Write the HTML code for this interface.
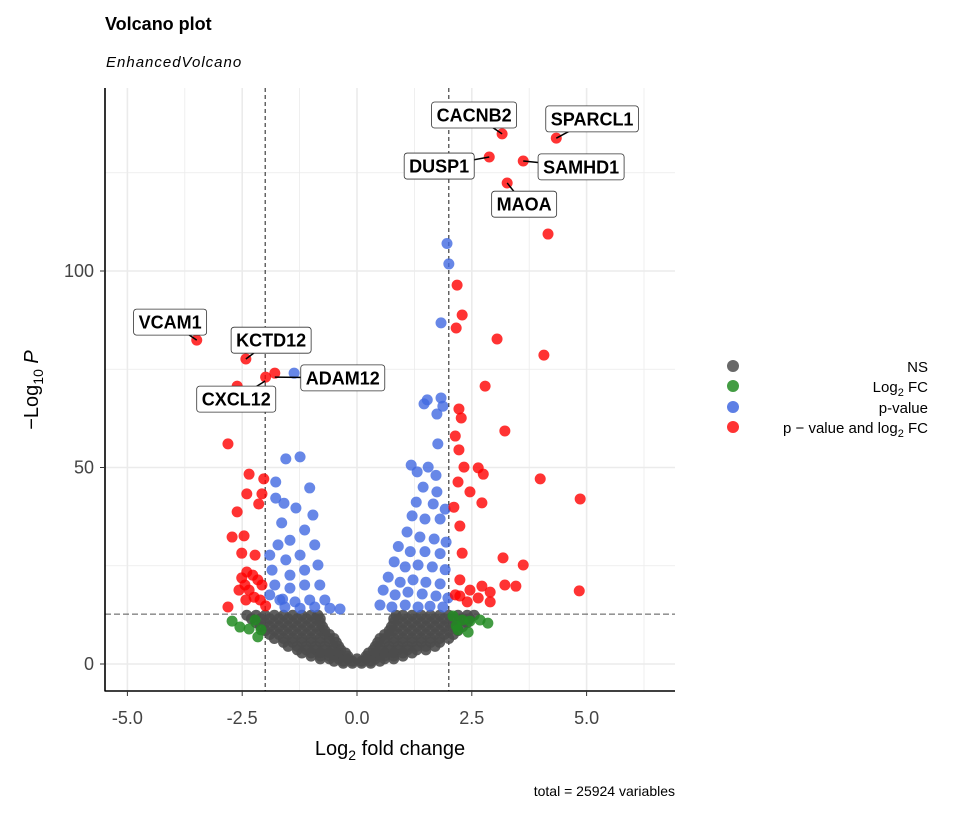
<!DOCTYPE html>
<html><head><meta charset="utf-8"><style>
body{margin:0;background:#fff;}
svg text{font-family:"Liberation Sans",sans-serif;}
</style></head><body>
<svg id="chart" width="960" height="816" xmlns="http://www.w3.org/2000/svg">
<text x="105" y="30" font-size="18" font-weight="bold">Volcano plot</text>
<text x="106" y="67" font-size="15" font-style="italic" letter-spacing="1">EnhancedVolcano</text>
<g id="grid"></g>
<g id="ref"></g>
<g id="pts"></g>
<g id="labels"></g>
<g id="axes"></g>
<text x="390" y="755" font-size="20" text-anchor="middle" fill="#000">Log<tspan font-size="14" dy="5">2</tspan><tspan dy="-5"> fold change</tspan></text>
<text transform="translate(38,390) rotate(-90)" font-size="20" text-anchor="middle">−Log<tspan font-size="14" dy="5">10</tspan><tspan dy="-5" font-style="italic"> P</tspan></text>
<g>
<circle cx="733" cy="366" r="6" fill="#4d4d4d" opacity="0.85"/>
<text x="928" y="372" font-size="15" text-anchor="end">NS</text>
<circle cx="733" cy="386" r="6" fill="#228B22" opacity="0.85"/>
<text x="928" y="392" font-size="15" text-anchor="end">Log<tspan font-size="11" dy="4">2</tspan><tspan dy="-4"> FC</tspan></text>
<circle cx="733" cy="407" r="6" fill="#4169E1" opacity="0.85"/>
<text x="928" y="413" font-size="15" text-anchor="end">p-value</text>
<circle cx="733" cy="427" r="6" fill="#FF0000" opacity="0.8"/>
<text x="928" y="433" font-size="15" text-anchor="end">p − value and log<tspan font-size="11" dy="4">2</tspan><tspan dy="-4"> FC</tspan></text>
</g>
<text x="675" y="796" font-size="14" text-anchor="end">total = 25924 variables</text>
</svg>
<script>
const xTicks=[-5,-2.5,0,2.5,5];
const xTickLabels=["-5.0","-2.5","0.0","2.5","5.0"];
const yTicks=[0,50,100];
const yTickLabels=["0","50","100"];
const fcCut=2, pCut=12.7;
const grayY=[12.4,11.5,10.5,9.5,8.5,7.5,6.5,5.5,4.5,3.6,2.8,2.0,1.3,0.7,0.2];
const grayX=[
[-2.4,-2.2,-2.0,-1.8,-1.6,-1.4,-1.2,-1.0,-0.85,0.85,1.0,1.2,1.4,1.6,1.8,2.0,2.2,2.4,2.55],
[-2.3,-2.1,-1.9,-1.7,-1.5,-1.3,-1.1,-0.9,-0.8,0.8,0.9,1.1,1.3,1.5,1.7,1.9,2.1,2.3,2.45],
[-2.2,-2.0,-1.8,-1.6,-1.4,-1.2,-1.0,-0.8,0.8,1.0,1.2,1.4,1.6,1.8,2.0,2.2,2.4],
[-2.1,-1.9,-1.7,-1.5,-1.3,-1.1,-0.9,-0.75,0.75,0.9,1.1,1.3,1.5,1.7,1.9,2.1,2.3],
[-2.0,-1.8,-1.6,-1.4,-1.2,-1.0,-0.8,-0.7,0.7,0.8,1.0,1.2,1.4,1.6,1.8,2.0,2.2],
[-1.9,-1.7,-1.5,-1.3,-1.1,-0.9,-0.7,-0.6,0.6,0.7,0.9,1.1,1.3,1.5,1.7,1.9,2.1],
[-1.8,-1.6,-1.4,-1.2,-1.0,-0.8,-0.6,-0.5,0.5,0.6,0.8,1.0,1.2,1.4,1.6,1.8,2.0],
[-1.6,-1.4,-1.2,-1.0,-0.8,-0.6,-0.45,0.45,0.6,0.8,1.0,1.2,1.4,1.6,1.8],
[-1.5,-1.3,-1.1,-0.9,-0.7,-0.5,-0.4,0.4,0.5,0.7,0.9,1.1,1.3,1.5,1.7],
[-1.3,-1.1,-0.9,-0.7,-0.5,-0.35,0.35,0.5,0.7,0.9,1.1,1.3,1.5],
[-1.2,-1.0,-0.8,-0.6,-0.4,-0.25,0.25,0.4,0.6,0.8,1.0,1.2],
[-1.0,-0.8,-0.6,-0.4,-0.2,0.2,0.4,0.6,0.8,1.0],
[-0.8,-0.6,-0.4,-0.2,0,0.2,0.4,0.6,0.8],
[-0.5,-0.3,-0.1,0.1,0.3,0.5],
[-0.3,-0.1,0.1,0.3]];
const greenX=[-2.72,-2.22,-2.35,-2.16,-2.09,-2.55,2.09,2.29,2.46,2.68,2.85,2.2,2.42,2.16];
const greenY=[10.9,11.2,8.9,6.9,8.7,9.4,12.2,11.2,10.9,11.2,10.4,8.7,8.1,9.7];
const blueX=[1.96,2.0,1.83,1.53,1.46,1.83,1.87,1.74,1.76,1.18,1.31,1.55,1.72,1.44,1.74,1.29,1.66,1.92,1.2,1.48,1.81,1.09,1.37,1.68,1.94,0.9,1.16,1.48,1.81,0.81,1.05,1.33,1.64,1.92,0.68,0.94,1.22,1.5,1.81,0.57,0.83,1.11,1.42,1.72,1.98,0.5,0.76,1.05,1.33,1.59,1.87,
-1.37,-1.55,-1.24,-1.77,-1.77,-1.59,-1.03,-0.96,-1.33,-1.64,-1.9,-1.72,-1.46,-1.14,-0.92,-1.24,-1.55,-1.85,-1.46,-1.14,-0.85,-1.79,-1.46,-1.14,-0.81,-1.68,-1.35,-1.03,-0.7,-1.57,-1.24,-0.92,-0.59,-0.37,-1.9,-1.62];
const blueY=[107,101.8,86.8,67.2,66.2,67.7,65.6,63.6,56,50.6,48.9,50.1,48,45,43.8,41.2,40.7,39.4,37.7,36.9,36.9,33.6,32.3,31.8,31,29.9,28.6,28.6,28.1,26,24.7,25.2,24.7,24,22.1,20.8,21.4,20.8,20.4,18.8,17.6,18.3,17.8,17.3,16.8,15,14.5,15,14.5,14.7,14.5,
74,52.2,52.7,46.3,42.2,40.9,44.8,37.9,39.7,35.9,27.7,30.3,31.5,34.1,30.3,27.7,26.5,23.9,22.6,23.9,25.2,20.1,19.3,20.1,20.1,16.3,15.8,16.3,16.3,14.5,14.2,14.5,14.2,14,17.6,16.5];
const redX=[4.16,3.16,4.34,2.88,3.62,3.27,2.18,2.29,2.16,3.05,4.07,2.79,2.22,2.27,3.22,2.14,2.22,2.33,2.64,2.75,3.99,4.86,2.2,2.46,2.11,2.72,2.24,2.29,3.18,3.62,2.24,2.72,3.46,4.84,2.46,2.9,2.24,3.22,2.64,2.14,2.4,2.9,
-3.49,-2.42,-2.61,-2.81,-2.35,-2.03,-2.4,-2.07,-2.14,-2.61,-2.72,-2.46,-2.51,-2.22,-2.51,-2.4,-2.27,-2.16,-2.44,-2.07,-2.35,-2.57,-2.24,-2.11,-2.42,-2.81,-1.99,-1.99,-1.79];
const redY=[109.4,134.9,133.8,129,128,122.4,96.4,88.8,85.5,82.7,78.6,70.7,64.9,62.6,59.3,58,54.5,50.1,49.9,48.3,47.1,42,46.3,43.8,39.9,41,35.1,28.2,27,25.2,21.4,19.8,19.8,18.6,18.8,18.3,17.3,20.1,16.8,17.6,15.8,15.8,
82.4,77.6,70.7,56,48.3,47.1,43.3,43.3,40.7,38.7,32.3,32.6,28.2,27.7,21.9,23.4,22.6,21.4,20.1,20.1,18.8,18.8,17.0,16.3,16.3,14.5,14.8,73,74];
const genes=["VCAM1","KCTD12","CXCL12","ADAM12","CACNB2","SPARCL1","DUSP1","SAMHD1","MAOA"];
const geneX=[-3.49,-2.42,-2.0,-1.79,3.16,4.34,2.88,3.62,3.27];
const geneY=[82.4,77.6,72,73,134.9,133.8,129,128,122.4];
const geneLabX=[-4.07,-1.87,-2.63,-0.31,2.55,5.12,1.79,4.88,3.64];
const geneLabY=[87.0,82.4,67.4,72.8,139.7,138.7,126.7,126.5,117.0];

const X0=105,X1=675,Y0=88,Y1=691;
const xs=v=>357+v*45.92, ys=v=>664-v*3.93;
const NS="http://www.w3.org/2000/svg";
function mk(p,tag,at){const e=document.createElementNS(NS,tag);for(const k in at)e.setAttribute(k,at[k]);p.appendChild(e);return e;}
const grid=document.getElementById('grid');
for(let v=-5;v<=6.3;v+=1.25){const l=mk(grid,'line',{x1:xs(v),x2:xs(v),y1:Y0,y2:Y1,stroke:'#ebebeb','stroke-width':(Math.abs(v%2.5)<1e-6?1.6:0.8)});

}
for(let v=0;v<=125;v+=25){const l=mk(grid,'line',{x1:X0,x2:X1,y1:ys(v),y2:ys(v),stroke:'#ebebeb','stroke-width':(v%50==0?1.6:0.8)});

}
const ref=document.getElementById('ref');
[-fcCut,fcCut].forEach(v=>{const l=mk(ref,'line',{x1:xs(v),x2:xs(v),y1:Y0,y2:Y1,stroke:'#000','stroke-width':0.9,'stroke-dasharray':'4,3'});

});
{const l=mk(ref,'line',{x1:X0,x2:X1,y1:ys(pCut),y2:ys(pCut),stroke:'#555','stroke-width':1,'stroke-dasharray':'6,3'});

}
const pts=document.getElementById('pts');
function dot(x,y,c,o,n){const e=mk(pts,'circle',{cx:xs(x),cy:ys(y),r:5.5,fill:c,opacity:o});

}
grayY.forEach((y,i)=>grayX[i].forEach(x=>dot(x,y,'#4d4d4d',0.9,'ns-point')));
greenX.forEach((x,i)=>dot(x,greenY[i],'#228B22',0.85,'fc-point'));
blueX.forEach((x,i)=>dot(x,blueY[i],'#4169E1',0.8,'p-point'));
redX.forEach((x,i)=>dot(x,redY[i],'#FF0000',0.8,'both-point'));
const lab=document.getElementById('labels');
genes.forEach((g,i)=>{
 const cx=xs(geneLabX[i]),cy=ys(geneLabY[i]);
 const ln=mk(lab,'line',{x1:xs(geneX[i]),y1:ys(geneY[i]),x2:cx,y2:cy,stroke:'#000','stroke-width':1.5});
 
 
 const r=mk(lab,'rect',{x:cx,y:cy-13,width:10,height:26,rx:3,fill:'#fff',stroke:'#333','stroke-width':0.8});
 
 
 const t=mk(lab,'text',{x:cx,y:cy+6.5,'font-size':18,'font-weight':'bold','text-anchor':'middle'});
 t.textContent=g;
 
 
 const w=t.getComputedTextLength()+10;
 r.setAttribute('x',cx-w/2);r.setAttribute('width',w);
});
const ax=document.getElementById('axes');
{const l=mk(ax,'line',{x1:X0,x2:X0,y1:Y0,y2:Y1+0.5,stroke:'#000','stroke-width':1.6});


const b=mk(ax,'line',{x1:X0,x2:X1,y1:Y1,y2:Y1,stroke:'#000','stroke-width':1.6});

}
xTicks.forEach((v,i)=>{const t=mk(ax,'line',{x1:xs(v),x2:xs(v),y1:Y1,y2:Y1+5,stroke:'#333'});


const tx=mk(ax,'text',{x:xs(v),y:724,'font-size':18,'text-anchor':'middle',fill:'#444'});tx.textContent=xTickLabels[i];

});
yTicks.forEach((v,i)=>{const t=mk(ax,'line',{x1:X0-5,x2:X0,y1:ys(v),y2:ys(v),stroke:'#333'});


const tx=mk(ax,'text',{x:94,y:ys(v)+6,'font-size':18,'text-anchor':'end',fill:'#444'});tx.textContent=yTickLabels[i];

});
</script>
</body></html>
